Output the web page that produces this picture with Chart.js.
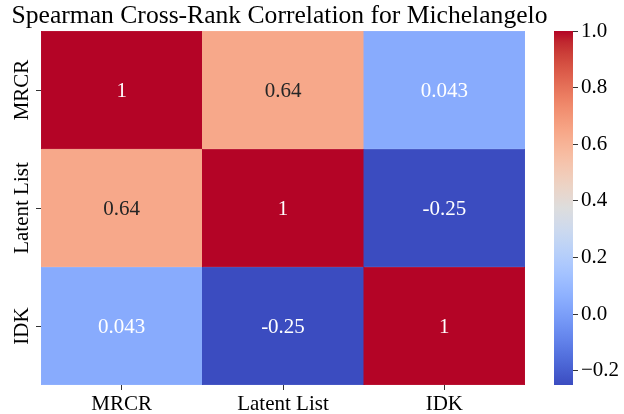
<!DOCTYPE html>
<html>
<head>
<meta charset="utf-8">
<script src="https://cdn.jsdelivr.net/npm/chart.js@4.4.1/dist/chart.umd.min.js"></script>
<style>
html,body{margin:0;padding:0;background:#fff;}
#wrap{position:relative;width:624px;height:414px;overflow:hidden;}
#heat{position:absolute;left:0;top:0;}
#cbar{position:absolute;left:539px;top:0;}
</style>
</head>
<body>
<div id="wrap">
<canvas id="heat" width="566" height="414"></canvas>
<canvas id="cbar" width="85" height="414"></canvas>
</div>
<script>
// ---- data ----
const categories = ['MRCR', 'Latent List', 'IDK'];
const rowMRCR = [1, 0.64, 0.043];
const rowLatentList = [0.64, 1, -0.25];
const rowIDK = [0.043, -0.25, 1];
const colorbarTicks = [-0.2, 0.0, 0.2, 0.4, 0.6, 0.8, 1.0];
const vmin = -0.25;
const vmax = 1.0;
const titleText = 'Spearman Cross-Rank Correlation for Michelangelo';

const matrix = [rowMRCR, rowLatentList, rowIDK];

// coolwarm colormap (Moreland) 33 stops
const CW = [
[59,76,192],[68,90,204],[77,104,215],[87,117,225],[98,130,234],[108,142,241],[119,154,247],[130,165,251],
[141,176,254],[152,185,255],[163,194,255],[174,201,253],[184,208,249],[194,213,244],[204,217,238],[213,219,230],
[221,221,221],[229,216,209],[236,211,197],[241,204,185],[245,196,173],[247,187,160],[247,177,148],[247,166,135],
[244,154,123],[241,141,111],[236,127,99],[229,112,88],[222,96,77],[213,80,66],[203,62,56],[192,40,47],[180,4,38]];
function coolwarm(t){
  t=Math.max(0,Math.min(1,t));
  const p=t*(CW.length-1), i=Math.min(Math.floor(p),CW.length-2), f=p-i;
  return CW[i].map((c,k)=>Math.round(c+(CW[i+1][k]-c)*f));
}
function colorFor(v){const c=coolwarm((v-vmin)/(vmax-vmin));return `rgb(${c[0]},${c[1]},${c[2]})`;}
function textFor(v){
  const c=coolwarm((v-vmin)/(vmax-vmin)).map(x=>{x/=255;return x<=0.03928?x/12.92:Math.pow((x+0.055)/1.055,2.4);});
  const L=0.2126*c[0]+0.7152*c[1]+0.0722*c[2];
  return L>0.45?'#262626':'#ffffff';
}

const FONT='"Liberation Serif", "Times New Roman", serif';
const FS=21;

const datasets = matrix.map((row,r)=>({
  label: categories[r],
  data: row.map(()=>[r, r+1]),
  values: row,
  backgroundColor: row.map(colorFor),
  borderColor: row.map(colorFor),
  borderWidth: 0.5,
  borderSkipped: false,
  barPercentage: 1,
  categoryPercentage: 1,
  grouped: false
}));

const annot = {
  id:'annot',
  afterDatasetsDraw(chart){
    const ctx=chart.ctx;
    ctx.save();
    ctx.font=FS+'px '+FONT;
    ctx.textAlign='center';
    ctx.textBaseline='middle';
    chart.data.datasets.forEach((ds,di)=>{
      chart.getDatasetMeta(di).data.forEach((el,j)=>{
        const v=ds.values[j];
        ctx.fillStyle=textFor(v);
        ctx.fillText(String(v), el.x, (el.y+el.base)/2+1);
      });
    });
    // y category labels, rotated
    const ys=chart.scales.y;
    ctx.fillStyle='#000';
    categories.forEach((c,i)=>{
      const y=ys.getPixelForValue(i+0.5);
      ctx.save();
      ctx.translate(ys.right-19, y);
      ctx.rotate(-Math.PI/2);
      ctx.fillText(c,0,0);
      ctx.restore();
    });
    // title centred
    ctx.font='25.6px '+FONT;
    ctx.fillText(titleText, 279.5, 16);
    ctx.restore();
  }
};

new Chart(document.getElementById('heat'), {
  type:'bar',
  data:{labels:categories, datasets},
  options:{
    responsive:false, animation:false, devicePixelRatio:1,
    layout:{padding:{left:0,right:41,top:31,bottom:0}},
    plugins:{
      legend:{display:false}, tooltip:{enabled:false}, title:{display:false}
    },
    scales:{
      x:{
        grid:{drawOnChartArea:false,tickLength:5,color:'#333',offset:false},
        border:{display:false},
        ticks:{color:'#000',font:{family:FONT,size:FS},padding:2,maxRotation:0},
        afterFit(s){s.height=29;}
      },
      y:{
        type:'linear', min:0, max:3, reverse:true,
        afterBuildTicks(s){s.ticks=[0.5,1.5,2.5].map(v=>({value:v}));},
        grid:{drawOnChartArea:false,tickLength:5,color:'#333'},
        border:{display:false},
        ticks:{display:false},
        afterFit(s){s.width=41;}
      }
    }
  },
  plugins:[annot]
});

// colorbar
new Chart(document.getElementById('cbar'), {
  type:'bar',
  data:{labels:['cb'], datasets:[{
    data:[[vmin,vmax]],
    backgroundColor(ctx){
      const ch=ctx.chart, a=ch.chartArea;
      if(!a) return '#ccc';
      const ys=ch.scales.y;
      const g=ch.ctx.createLinearGradient(0,ys.getPixelForValue(vmin),0,ys.getPixelForValue(vmax));
      for(let i=0;i<CW.length;i++){const c=CW[i];g.addColorStop(i/(CW.length-1),`rgb(${c[0]},${c[1]},${c[2]})`);}
      return g;
    },
    borderWidth:0, barPercentage:1, categoryPercentage:1
  }]},
  options:{
    responsive:false, animation:false, devicePixelRatio:1,
    layout:{padding:{left:15,right:0,top:31,bottom:29}},
    plugins:{legend:{display:false},tooltip:{enabled:false}},
    scales:{
      x:{display:false},
      y:{
        position:'right', min:vmin, max:vmax,
        afterBuildTicks(s){s.ticks=colorbarTicks.map(v=>({value:v}));},
        grid:{drawOnChartArea:false,tickLength:5,color:'#333'},
        border:{display:false},
        ticks:{color:'#000',font:{family:FONT,size:FS},padding:3,
          callback(v){return (v<0?'\u2212':'')+Math.abs(v).toFixed(1);}},
        afterFit(s){s.width=51;}
      }
    }
  }
});
</script>
</body>
</html>
